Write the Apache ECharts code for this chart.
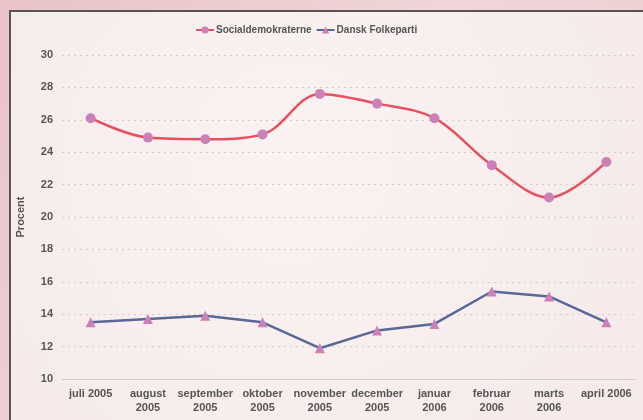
<!DOCTYPE html>
<html>
<head>
<meta charset="utf-8">
<script src="https://cdn.jsdelivr.net/npm/echarts@6/dist/echarts.min.js"></script>
<style>
  html, body { margin: 0; padding: 0; }
  #chart { width: 643px; height: 420px; }
</style>
</head>
<body>
<div id="chart"></div>
<script>
/* kategorier og data */
const months = ['juli 2005', 'august\n2005', 'september\n2005', 'oktober\n2005', 'november\n2005',
    'december\n2005', 'januar\n2006', 'februar\n2006', 'marts\n2006', 'april 2006'];
const socialdemokraterne = [26.1, 24.9, 24.8, 25.1, 27.6, 27.0, 26.1, 23.2, 21.2, 23.4];
const danskFolkeparti = [13.5, 13.7, 13.9, 13.5, 11.9, 13.0, 13.4, 15.4, 15.1, 13.5];

const chart = echarts.init(document.getElementById('chart'));

const labelStyle = { color: '#555', fontWeight: 'bold', fontSize: 11, fontFamily: 'Liberation Sans, Arial, sans-serif' };

const option = {
    backgroundColor: {
        type: 'linear', x: 0, y: 0, x2: 1, y2: 1,
        colorStops: [
            { offset: 0, color: '#e9c3c8' },
            { offset: 0.5, color: '#efd6d8' },
            { offset: 1, color: '#ebcdd0' }
        ]
    },
    graphic: [
        {
            type: 'rect',
            z: -10,
            shape: { x: 10, y: 11, width: 700, height: 500 },
            style: {
                fill: {
                    type: 'radial', x: 0.4, y: 0.3, r: 0.8,
                    colorStops: [
                        { offset: 0, color: '#faf3f2' },
                        { offset: 1, color: '#f6eaea' }
                    ]
                },
                stroke: '#555',
                lineWidth: 2
            }
        }
    ],
    legend: {
        top: 20,
        left: 190,
        itemWidth: 18,
        itemHeight: 9,
        itemGap: 4,
        textStyle: Object.assign({}, labelStyle, { fontSize: 10, padding: [0, 0, 0, -3] }),
        data: ['Socialdemokraterne', 'Dansk Folkeparti']
    },
    grid: { left: 62, right: 8, top: 55, bottom: 41, outerBoundsMode: 'none' },
    xAxis: {
        type: 'category',
        data: months,
        boundaryGap: true,
        axisLine: { lineStyle: { color: '#d0d0d0' } },
        axisTick: { lineStyle: { color: '#d0d0d0' } },
        axisLabel: Object.assign({ interval: 0, margin: 8, lineHeight: 14 }, labelStyle)
    },
    yAxis: {
        type: 'value',
        min: 10,
        max: 30,
        interval: 2,
        name: 'Procent',
        nameLocation: 'middle',
        nameGap: 36,
        nameTextStyle: labelStyle,
        axisLine: { show: false },
        axisTick: { show: false },
        axisLabel: Object.assign({ margin: 9 }, labelStyle),
        splitLine: { lineStyle: { color: '#cfcfcf', type: [2, 4] } }
    },
    series: [
        {
            name: 'Socialdemokraterne',
            type: 'line',
            data: socialdemokraterne,
            smooth: 0.35,
            symbol: 'circle',
            symbolSize: 10,
            lineStyle: { color: '#e8505f', width: 2.5 },
            itemStyle: { color: '#cc80b8' }
        },
        {
            name: 'Dansk Folkeparti',
            type: 'line',
            data: danskFolkeparti,
            symbol: 'triangle',
            symbolSize: 10,
            lineStyle: { color: '#5a6898', width: 2.5 },
            itemStyle: { color: '#cc80b8' }
        }
    ]
};

chart.setOption(option);
</script>
</body>
</html>
